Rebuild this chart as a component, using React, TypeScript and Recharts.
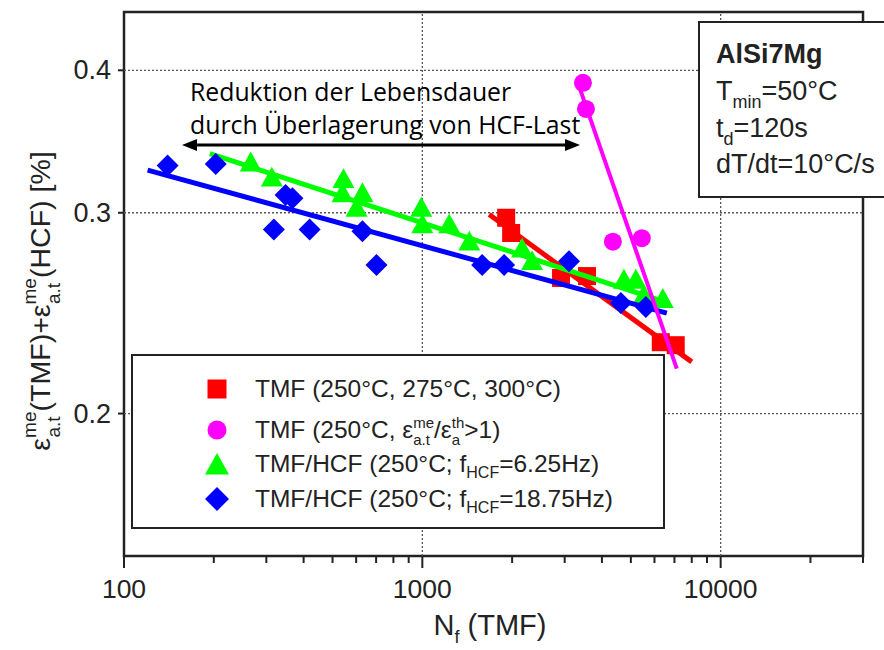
import React from "react";
import {
  ScatterChart,
  Scatter,
  XAxis,
  YAxis,
  ReferenceLine,
  ReferenceArea,
  Legend,
} from "recharts";

// x ticks (log axis)
const majorXTicks = [100, 1000, 10000];
const minorXTicks = [200, 300, 400, 500, 600, 700, 800, 900, 2000, 3000, 4000, 5000, 6000, 7000, 8000, 9000, 20000, 30000];
const yTicks = [0.2, 0.3, 0.4];

// TMF (250/275/300 °C)
const redN = [1910, 1985, 2917, 3565, 6300, 7070];
const redE = [0.297, 0.288, 0.263, 0.264, 0.231, 0.2296];
const redFitN = [1675, 8000];
const redFitE = [0.299, 0.222];

// TMF (250 °C, ratio > 1)
const magentaN = [3455, 3536, 4353, 5441];
const magentaE = [0.39, 0.37, 0.283, 0.285];
const magentaFitN = [3300, 7127];
const magentaFitE = [0.392, 0.219];

// TMF/HCF 6.25 Hz
const greenN = [266, 313, 544, 540, 630, 602, 992, 1000, 1231, 1437, 2160, 2333, 4738, 5196, 5524, 6397];
const greenE = [0.332, 0.322, 0.321, 0.312, 0.312, 0.303, 0.303, 0.293, 0.293, 0.283, 0.279, 0.272, 0.262, 0.262, 0.254, 0.252];
const greenFitN = [194, 6700];
const greenFitE = [0.338, 0.25];

// TMF/HCF 18.75 Hz
const blueN = [140, 203, 318, 348, 367, 419, 630, 702, 1587, 1880, 3102, 4630, 5612];
const blueE = [0.33, 0.331, 0.29, 0.311, 0.309, 0.29, 0.289, 0.27, 0.27, 0.27, 0.272, 0.25, 0.248];
const blueFitN = [120, 6600];
const blueFitE = [0.327, 0.245];

const RED = "#ff0000";
const MAGENTA = "#ff00ff";
const GREEN = "#00ff00";
const BLUE = "#0000ff";
const INK = "#222";

const toPts = (xs: number[], ys: number[]) => xs.map((x, i) => ({ x, y: ys[i] }));

const SquareMark = ({ cx, cy, s = 18 }: any) => (
  <rect x={cx - s / 2} y={cy - s / 2} width={s} height={s} fill={RED} />
);
const CircleMark = ({ cx, cy, s = 18 }: any) => <circle cx={cx} cy={cy} r={s / 2} fill={MAGENTA} />;
const TriangleMark = ({ cx, cy, s = 22 }: any) => (
  <polygon
    points={`${cx},${cy - s * 0.5} ${cx + s / 2},${cy + s * 0.4} ${cx - s / 2},${cy + s * 0.4}`}
    fill={GREEN}
  />
);
const DiamondMark = ({ cx, cy, s = 22 }: any) => (
  <polygon
    points={`${cx},${cy - s / 2} ${cx + s / 2},${cy} ${cx},${cy + s / 2} ${cx - s / 2},${cy}`}
    fill={BLUE}
  />
);
const NoMark = () => <g />;

function XTick(props: any) {
  const { x, y, payload } = props;
  const major = majorXTicks.includes(payload.value);
  return (
    <g>
      <line x1={x} x2={x} y1={y} y2={y + (major ? 12 : 7)} stroke={INK} strokeWidth={2} />
      {major && (
        <text x={x} y={y + 42} textAnchor="middle" fontSize={26.5} fill={INK}>
          {payload.value}
        </text>
      )}
    </g>
  );
}

function YTick(props: any) {
  const { x, y, payload } = props;
  return (
    <g>
      <line x1={x - 6} x2={x} y1={y} y2={y} stroke={INK} strokeWidth={2} />
      <text x={x - 13} y={y + 9} textAnchor="end" fontSize={27} fill={INK}>
        {payload.value}
      </text>
    </g>
  );
}

function YTitle() {
  return (
    <text transform="translate(50, 301) rotate(-90)" textAnchor="middle" fontSize={28.5} fill={INK}>
      <tspan>ε</tspan>
      <tspan fontSize={19} dy={-14}>me</tspan>
      <tspan fontSize={19} dx={-26} dy={24}>a.t</tspan>
      <tspan dx={5} dy={-10}>(TMF)+ε</tspan>
      <tspan fontSize={19} dy={-14}>me</tspan>
      <tspan fontSize={19} dx={-26} dy={24}>a.t</tspan>
      <tspan dx={5} dy={-10}>(HCF) [%]</tspan>
    </text>
  );
}

function XTitle() {
  return (
    <text x={490} y={635} textAnchor="middle" fontSize={29} fill={INK}>
      <tspan>N</tspan>
      <tspan fontSize={18} dy={8}>f</tspan>
      <tspan dy={-8}> (TMF)</tspan>
    </text>
  );
}

const Stack = ({ sup, sub }: { sup: string; sub: string }) => (
  <span
    style={{
      display: "inline-flex",
      flexDirection: "column",
      fontSize: 15,
      lineHeight: "17px",
      position: "relative",
      top: -10,
    }}
  >
    <span>{sup}</span>
    <span>{sub}</span>
  </span>
);

const legendRows = [
  { mark: <SquareMark cx={15} cy={15} s={19} />, y: 33, label: <>TMF (250°C, 275°C, 300°C)</> },
  {
    mark: <CircleMark cx={15} cy={15} s={19} />,
    y: 74,
    label: (
      <>
        TMF (250°C, ε<Stack sup="me" sub="a.t" />/ε<Stack sup="th" sub="a" />&gt;1)
      </>
    ),
  },
  {
    mark: <TriangleMark cx={15} cy={16} s={24} />,
    y: 108,
    label: (
      <>
        TMF/HCF (250°C; f<sub style={{ fontSize: 16 }}>HCF</sub>=6.25Hz)
      </>
    ),
  },
  {
    mark: <DiamondMark cx={15} cy={15} s={24} />,
    y: 143,
    label: (
      <>
        TMF/HCF (250°C; f<sub style={{ fontSize: 16 }}>HCF</sub>=18.75Hz)
      </>
    ),
  },
];

function LegendBox() {
  return (
    <div style={{ position: "relative", width: "100%", height: "100%" }}>
      {legendRows.map((r, i) => (
        <div key={i}>
          <svg
            width={30}
            height={30}
            style={{ position: "absolute", left: 69, top: r.y - 15 }}
          >
            {r.mark}
          </svg>
          <div
            style={{
              position: "absolute",
              left: 122,
              top: r.y - 15,
              height: 30,
              lineHeight: "30px",
              fontSize: 24.5,
              color: INK,
              whiteSpace: "nowrap",
            }}
          >
            {r.label}
          </div>
        </div>
      ))}
    </div>
  );
}

export default function App() {
  return (
    <div
      style={{
        position: "absolute",
        left: 0,
        top: 0,
        width: 884,
        height: 650,
        overflow: "hidden",
        background: "#fff",
        fontFamily: '"Liberation Sans", Arial, sans-serif',
      }}
    >
      <ScatterChart width={884} height={650} margin={{ top: 12, right: 21, bottom: 0, left: 64 }}>
        <XAxis
          dataKey="x"
          type="number"
          scale="log"
          domain={[100, 30000]}
          ticks={[...majorXTicks, ...minorXTicks].sort((a, b) => a - b)}
          interval={0}
          allowDataOverflow
          axisLine={false}
          tickLine={false}
          tickSize={0}
          tickMargin={0}
          tick={(p: any) => <XTick {...p} />}
          height={94}
          label={<XTitle />}
        />
        <YAxis
          dataKey="y"
          type="number"
          scale="log"
          domain={[0.15, 0.45]}
          ticks={yTicks}
          interval={0}
          allowDataOverflow
          axisLine={false}
          tickLine={false}
          tickSize={0}
          tickMargin={0}
          tick={(p: any) => <YTick {...p} />}
          width={60}
          label={<YTitle />}
        />
        {majorXTicks.slice(1).map((v) => (
          <ReferenceLine key={"vx" + v} x={v} stroke="#555" strokeDasharray="2 2" strokeWidth={1.3} />
        ))}
        {yTicks.map((v) => (
          <ReferenceLine key={"hy" + v} y={v} stroke="#555" strokeDasharray="2 2" strokeWidth={1.3} />
        ))}
        <ReferenceArea x1={100} x2={30000} y1={0.15} y2={0.45} fill="none" stroke={INK} strokeWidth={2.5} />

        <Scatter data={toPts(redN, redE)} fill={RED} shape={(p: any) => <SquareMark cx={p.cx} cy={p.cy} />} isAnimationActive={false} />
        <Scatter data={toPts(redFitN, redFitE)} fill={RED} line={{ stroke: RED, strokeWidth: 5 }} shape={NoMark} isAnimationActive={false} />

        <Scatter data={toPts(greenN, greenE)} fill={GREEN} shape={(p: any) => <TriangleMark cx={p.cx} cy={p.cy} />} isAnimationActive={false} />
        <Scatter data={toPts(greenFitN, greenFitE)} fill={GREEN} line={{ stroke: GREEN, strokeWidth: 5 }} shape={NoMark} isAnimationActive={false} />

        <Scatter data={toPts(blueN, blueE)} fill={BLUE} shape={(p: any) => <DiamondMark cx={p.cx} cy={p.cy} />} isAnimationActive={false} />
        <Scatter data={toPts(blueFitN, blueFitE)} fill={BLUE} line={{ stroke: BLUE, strokeWidth: 5 }} shape={NoMark} isAnimationActive={false} />

        <Scatter data={toPts(magentaN, magentaE)} fill={MAGENTA} shape={(p: any) => <CircleMark cx={p.cx} cy={p.cy} />} isAnimationActive={false} />
        <Scatter data={toPts(magentaFitN, magentaFitE)} fill={MAGENTA} line={{ stroke: MAGENTA, strokeWidth: 4 }} shape={NoMark} isAnimationActive={false} />

        <Legend
          layout="vertical"
          align="center"
          verticalAlign="middle"
          content={() => <LegendBox />}
          wrapperStyle={{
            left: 131,
            top: 354,
            width: 534,
            height: 175,
            boxSizing: "border-box",
            border: `2px solid ${INK}`,
            background: "#fff",
          }}
        />
      </ScatterChart>

      {/* annotations */}
      <svg width={884} height={650} style={{ position: "absolute", left: 0, top: 0, pointerEvents: "none" }}>
        <text fontFamily='"Open Sans", sans-serif' fontSize={24.8} fill="#000">
          <tspan x={190} y={101}>Reduktion der Lebensdauer</tspan>
          <tspan x={190} y={134}>durch Überlagerung von HCF-Last</tspan>
        </text>
        <line x1={192} x2={570} y1={145} y2={145} stroke="#000" strokeWidth={3} />
        <polygon points="182,145 197,139 197,151" fill="#000" />
        <polygon points="580,145 565,139 565,151" fill="#000" />

        <rect x={699} y={22} width={200} height={175} fill="#fff" stroke={INK} strokeWidth={2} />
        <g fontSize={27} fill={INK}>
          <text x={716} y={63} fontWeight="bold">AlSi7Mg</text>
          <text x={716} y={100}>
            <tspan>T</tspan>
            <tspan fontSize={18} dy={8}>min</tspan>
            <tspan dy={-8}>=50°C</tspan>
          </text>
          <text x={716} y={137}>
            <tspan>t</tspan>
            <tspan fontSize={18} dy={8}>d</tspan>
            <tspan dy={-8}>=120s</tspan>
          </text>
          <text x={716} y={173}>dT/dt=10°C/s</text>
        </g>
      </svg>
    </div>
  );
}
